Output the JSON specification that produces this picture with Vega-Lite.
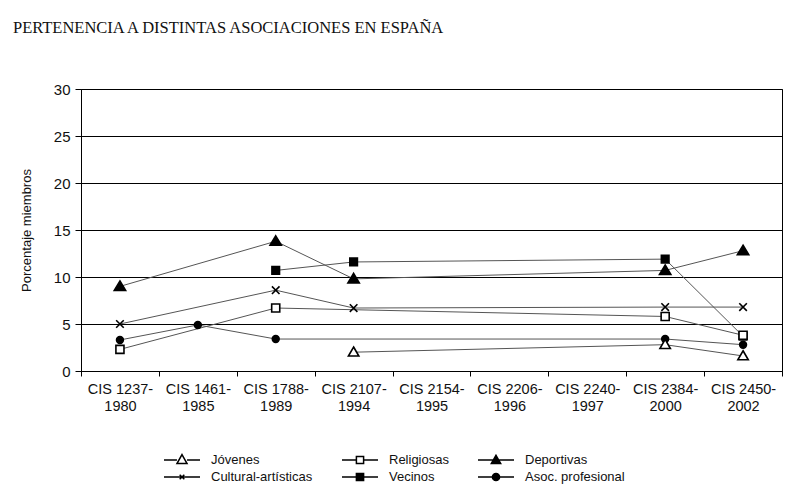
{
  "$schema": "https://vega.github.io/schema/vega-lite/v6.json",
  "autosize": "none",
  "width": 701,
  "height": 282,
  "padding": {"left": 81, "top": 89, "right": 11, "bottom": 127},
  "background": "white",
  "title": {
    "text": "PERTENENCIA A DISTINTAS ASOCIACIONES EN ESPAÑA",
    "anchor": "start",
    "frame": "group",
    "dx": -68,
    "offset": 46,
    "font": "Liberation Serif",
    "fontSize": 16.5,
    "fontWeight": "normal",
    "color": "#111"
  },
  "config": {
    "view": {"stroke": "black", "strokeWidth": 1},
    "axis": {
      "labelFont": "Liberation Sans",
      "titleFont": "Liberation Sans",
      "labelColor": "#111",
      "titleColor": "#111",
      "domainColor": "black",
      "tickColor": "black",
      "gridColor": "black",
      "gridOpacity": 1
    },
    "legend": {"labelFont": "Liberation Sans"}
  },
  "data": {
    "values": [
      {"cis": "CIS 1237-1980", "serie": "Deportivas", "valor": 9.0},
      {"cis": "CIS 1788-1989", "serie": "Deportivas", "valor": 13.8},
      {"cis": "CIS 2107-1994", "serie": "Deportivas", "valor": 9.8},
      {"cis": "CIS 2384-2000", "serie": "Deportivas", "valor": 10.7},
      {"cis": "CIS 2450-2002", "serie": "Deportivas", "valor": 12.8},
      {"cis": "CIS 1788-1989", "serie": "Vecinos", "valor": 10.7},
      {"cis": "CIS 2107-1994", "serie": "Vecinos", "valor": 11.6},
      {"cis": "CIS 2384-2000", "serie": "Vecinos", "valor": 11.9},
      {"cis": "CIS 2450-2002", "serie": "Vecinos", "valor": 3.7},
      {"cis": "CIS 1237-1980", "serie": "Cultural-artísticas", "valor": 5.0},
      {"cis": "CIS 1788-1989", "serie": "Cultural-artísticas", "valor": 8.6},
      {"cis": "CIS 2107-1994", "serie": "Cultural-artísticas", "valor": 6.7},
      {"cis": "CIS 2384-2000", "serie": "Cultural-artísticas", "valor": 6.8},
      {"cis": "CIS 2450-2002", "serie": "Cultural-artísticas", "valor": 6.8},
      {"cis": "CIS 1237-1980", "serie": "Asoc. profesional", "valor": 3.3},
      {"cis": "CIS 1461-1985", "serie": "Asoc. profesional", "valor": 4.9},
      {"cis": "CIS 1788-1989", "serie": "Asoc. profesional", "valor": 3.4},
      {"cis": "CIS 2384-2000", "serie": "Asoc. profesional", "valor": 3.4},
      {"cis": "CIS 2450-2002", "serie": "Asoc. profesional", "valor": 2.8},
      {"cis": "CIS 1237-1980", "serie": "Religiosas", "valor": 2.3},
      {"cis": "CIS 1788-1989", "serie": "Religiosas", "valor": 6.7},
      {"cis": "CIS 2384-2000", "serie": "Religiosas", "valor": 5.8},
      {"cis": "CIS 2450-2002", "serie": "Religiosas", "valor": 3.8},
      {"cis": "CIS 2107-1994", "serie": "Jóvenes", "valor": 2.0},
      {"cis": "CIS 2384-2000", "serie": "Jóvenes", "valor": 2.8},
      {"cis": "CIS 2450-2002", "serie": "Jóvenes", "valor": 1.6}
    ]
  },
  "encoding": {
    "x": {
      "field": "cis",
      "type": "ordinal",
      "sort": null,
      "scale": {
        "type": "band",
        "paddingInner": 0,
        "paddingOuter": 0,
        "domain": ["CIS 1237-1980", "CIS 1461-1985", "CIS 1788-1989", "CIS 2107-1994", "CIS 2154-1995", "CIS 2206-1996", "CIS 2240-1997", "CIS 2384-2000", "CIS 2450-2002"]
      },
      "axis": {
        "title": null,
        "labelAngle": 0,
        "labelFontSize": 14.5,
        "labelExpr": "[slice(datum.label, 0, 9), slice(datum.label, 9)]",
        "labelLineHeight": 17,
        "labelBaseline": "top",
        "labelPadding": 6,
        "tickBand": "extent",
        "tickSize": 5,
        "labelLimit": 200
      }
    },
    "y": {
      "field": "valor",
      "type": "quantitative",
      "scale": {"domain": [0, 30]},
      "axis": {
        "title": "Porcentaje miembros",
        "titleFontSize": 13,
        "titleFontWeight": "normal",
        "titlePadding": 20,
        "values": [0, 5, 10, 15, 20, 25, 30],
        "labelFontSize": 15,
        "tickSize": 6,
        "labelPadding": 5,
        "grid": true
      }
    }
  },
  "layer": [
    {
      "mark": {"type": "line", "color": "#555", "strokeWidth": 1},
      "encoding": {"detail": {"field": "serie"}}
    },
    {
      "mark": {"type": "point", "filled": false, "stroke": "black", "strokeWidth": 1.6, "opacity": 1},
      "encoding": {
        "shape": {
          "field": "serie",
          "scale": {
            "domain": ["Jóvenes", "Religiosas", "Deportivas", "Cultural-artísticas", "Vecinos", "Asoc. profesional"],
            "range": ["M0,-1.1L1.1,0.8L-1.1,0.8Z", "M-0.85,-0.85H0.85V0.85H-0.85Z", "M0,-1.15L1.2,0.85L-1.2,0.85Z", "M-0.8,-0.8L0.8,0.8M-0.8,0.8L0.8,-0.8", "M-0.8,-0.8H0.8V0.8H-0.8Z", "M0.72,0A0.72,0.72,0,1,1,-0.72,0A0.72,0.72,0,1,1,0.72,0Z"]
          },
          "legend": null
        },
        "fill": {
          "field": "serie",
          "scale": {
            "domain": ["Jóvenes", "Religiosas", "Deportivas", "Cultural-artísticas", "Vecinos", "Asoc. profesional"],
            "range": ["white", "white", "black", "white", "black", "black"]
          },
          "legend": null
        },
        "size": {"value": 90}
      }
    },
    {
      "mark": {"type": "point", "filled": true, "stroke": "black", "strokeWidth": 1.3, "opacity": 0},
      "encoding": {
        "shape": {
          "field": "serie",
          "title": null,
          "scale": {
            "domain": ["Jóvenes", "Cultural-artísticas", "Religiosas", "Vecinos", "Deportivas", "Asoc. profesional"],
            "range": [
              "M-2,0H-0.56M0.56,0H2M0,-0.6L0.56,0.4L-0.56,0.4Z",
              "M-2,0H2M-0.26,-0.26L0.26,0.26M-0.26,0.26L0.26,-0.26",
              "M-2,0H-0.4M0.4,0H2M-0.4,-0.4H0.4V0.4H-0.4Z",
              "M-2,0H2M-0.4,-0.4H0.4V0.4H-0.4Z",
              "M-2,0H2M0,-0.52L0.52,0.4L-0.52,0.4Z",
              "M-2,0H2M0.4,0A0.4,0.4,0,1,1,-0.4,0A0.4,0.4,0,1,1,0.4,0Z"
            ]
          },
          "legend": {
            "orient": "none",
            "legendX": 91,
            "legendY": 361,
            "columns": 3,
            "columnPadding": 26,
            "rowPadding": 0,
            "symbolSize": 324,
            "symbolOpacity": 1,
            "labelFontSize": 13,
            "labelColor": "#111",
            "labelOffset": 19,
            "labelLimit": 300,
            "encode": {
              "symbols": {
                "update": {
                  "stroke": {"value": "black"},
                  "strokeWidth": {"value": 1.3},
                  "opacity": {"value": 1}
                }
              }
            }
          }
        },
        "fill": {
          "field": "serie",
          "title": null,
          "scale": {
            "domain": ["Jóvenes", "Cultural-artísticas", "Religiosas", "Vecinos", "Deportivas", "Asoc. profesional"],
            "range": ["white", "white", "white", "black", "black", "black"]
          }
        }
      }
    }
  ],
  "resolve": {"scale": {"shape": "independent", "fill": "independent"}}
}
